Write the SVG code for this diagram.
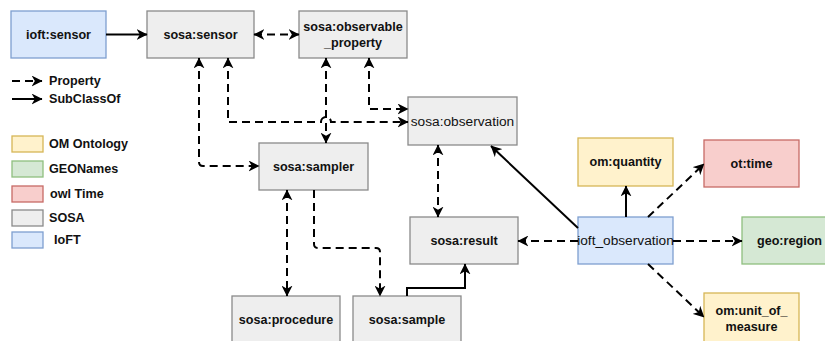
<svg xmlns="http://www.w3.org/2000/svg" width="825" height="341" viewBox="0 0 825 341">
  <style>
    .box { stroke-width: 1.3; }
    .sosa { fill: #eeeeee; stroke: #8a8a8a; }
    .ioft { fill: #dae8fc; stroke: #7e9fd0; }
    .om { fill: #fff2cc; stroke: #d6b656; }
    .geo { fill: #d5e8d4; stroke: #8fbf7f; }
    .time { fill: #f8cecc; stroke: #c76a66; }
    text { font-family: "Liberation Sans", Arial, Helvetica, sans-serif; fill: #111111; text-anchor: middle; dominant-baseline: central; }
    .b { font-weight: bold; font-size: 12.6px; }
    .r { font-size: 13.7px; }
    .lg { text-anchor: start; }
    .edge { fill: none; stroke: #000000; stroke-width: 2; }
    .dash { stroke-dasharray: 8 5; }
  </style>
  <defs>
    <marker id="arr" viewBox="0 0 10 10" refX="9.5" refY="5" markerWidth="11" markerHeight="11" markerUnits="userSpaceOnUse" orient="auto-start-reverse">
      <path d="M0,0 L10,5 L0,10 L3,5 Z" fill="#000000"/>
    </marker>
  </defs>

  <rect width="825" height="341" fill="#ffffff"/>

  <!-- legend -->
  <g id="legend">
    <path class="edge dash" d="M12,81 H42" marker-end="url(#arr)"/>
    <text class="b lg" x="49" y="81">Property</text>
    <path class="edge" d="M12,99 H42" marker-end="url(#arr)"/>
    <text class="b lg" x="49" y="99">SubClassOf</text>
    <rect class="box om" x="12" y="136" width="31" height="16"/>
    <text class="b lg" x="49" y="144">OM Ontology</text>
    <rect class="box geo" x="12" y="161" width="31" height="16"/>
    <text class="b lg" x="49" y="169">GEONames</text>
    <rect class="box time" x="12" y="186" width="31" height="16"/>
    <text class="b lg" x="50" y="194">owl Time</text>
    <rect class="box sosa" x="12" y="210" width="31" height="16"/>
    <text class="b lg" x="49" y="218">SOSA</text>
    <rect class="box ioft" x="12" y="232" width="31" height="16"/>
    <text class="b lg" x="54" y="240">IoFT</text>
  </g>

  <!-- nodes -->
  <g id="ioft-sensor">
    <rect class="box ioft" x="11" y="11" width="95" height="47"/>
    <text class="b" x="58.5" y="34.5">ioft:sensor</text>
  </g>
  <g id="sosa-sensor">
    <rect class="box sosa" x="147" y="11" width="107" height="47"/>
    <text class="b" x="200.5" y="34.5">sosa:sensor</text>
  </g>
  <g id="sosa-observable-property">
    <rect class="box sosa" x="299" y="11" width="108" height="47"/>
    <text class="b" x="353" y="27">sosa:observable</text>
    <text class="b" x="353" y="43">_property</text>
  </g>
  <g id="sosa-observation">
    <rect class="box sosa" x="408" y="97" width="109" height="48"/>
    <text class="r" x="462.5" y="121">sosa:observation</text>
  </g>
  <g id="sosa-sampler">
    <rect class="box sosa" x="259" y="143" width="109" height="47"/>
    <text class="b" x="313.5" y="166.5">sosa:sampler</text>
  </g>
  <g id="sosa-result">
    <rect class="box sosa" x="410" y="217" width="108" height="47"/>
    <text class="b" x="464" y="240.5">sosa:result</text>
  </g>
  <g id="sosa-procedure">
    <rect class="box sosa" x="232" y="296" width="108" height="47"/>
    <text class="b" x="286" y="320">sosa:procedure</text>
  </g>
  <g id="sosa-sample">
    <rect class="box sosa" x="353" y="296" width="108" height="47"/>
    <text class="b" x="407" y="320">sosa:sample</text>
  </g>
  <g id="om-quantity">
    <rect class="box om" x="578" y="138" width="95" height="48"/>
    <text class="b" x="625.5" y="162">om:quantity</text>
  </g>
  <g id="ot-time">
    <rect class="box time" x="704" y="140" width="95" height="47"/>
    <text class="b" x="751.5" y="163.5">ot:time</text>
  </g>
  <g id="ioft-observation">
    <rect class="box ioft" x="578" y="217" width="95" height="47"/>
    <text class="r" x="625.5" y="240.5">ioft_observation</text>
  </g>
  <g id="geo-region">
    <rect class="box geo" x="742" y="217" width="95" height="47"/>
    <text class="b" x="789.5" y="240.5">geo:region</text>
  </g>
  <g id="om-unit-of-measure">
    <rect class="box om" x="704" y="293" width="95" height="50"/>
    <text class="b" x="751.5" y="311">om:unit_of_</text>
    <text class="b" x="751.5" y="327">measure</text>
  </g>

  <!-- connectors -->
  <g id="connectors">
    <path class="edge" d="M106,34.5 H147" marker-end="url(#arr)"/>
    <path class="edge dash" d="M254,34.5 H299" marker-start="url(#arr)" marker-end="url(#arr)"/>
    <path class="edge dash" d="M199,58 V162 Q199,166 203,166 H259" marker-start="url(#arr)" marker-end="url(#arr)"/>
    <path class="edge dash" d="M326,58 V143" marker-start="url(#arr)" marker-end="url(#arr)"/>
    <path class="edge dash" d="M228,58 V122 H321 A5,5 0 0 1 331,122 H408" marker-start="url(#arr)" marker-end="url(#arr)"/>
    <path class="edge dash" d="M369,58 V109 H408" marker-start="url(#arr)" marker-end="url(#arr)"/>
    <path class="edge dash" d="M438,145 V217" marker-start="url(#arr)" marker-end="url(#arr)"/>
    <path class="edge dash" d="M287,190 V296" marker-start="url(#arr)" marker-end="url(#arr)"/>
    <path class="edge dash" d="M314,190 V244 Q314,248 318,248 H376 Q380,248 380,252 V296" marker-end="url(#arr)"/>
    <path class="edge" d="M407,296 V288 H465 V264" marker-end="url(#arr)"/>
    <path class="edge" d="M578,228 L491,146" marker-end="url(#arr)"/>
    <path class="edge dash" d="M578,241 H518" marker-end="url(#arr)"/>
    <path class="edge" d="M626,217 V186" marker-end="url(#arr)"/>
    <path class="edge dash" d="M648,217 L704,164" marker-end="url(#arr)"/>
    <path class="edge dash" d="M673,241 H742" marker-end="url(#arr)"/>
    <path class="edge dash" d="M648,264 L704,317" marker-end="url(#arr)"/>
  </g>
</svg>
